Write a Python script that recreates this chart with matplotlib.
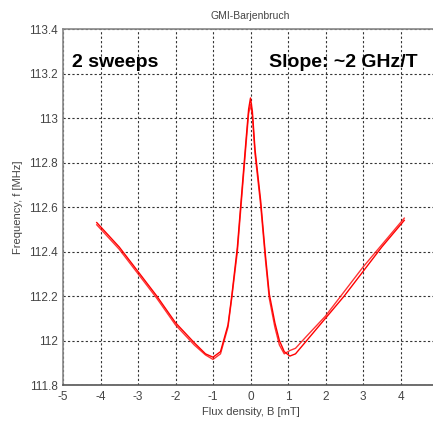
import numpy as np
import matplotlib
matplotlib.use('Agg')
import matplotlib.pyplot as plt

plt.rcParams['font.family'] = ['Liberation Sans', 'DejaVu Sans']

# sweep 1 (flux density in mT, frequency in MHz)
b1 = [-4.1, -3.5, -3.0, -2.5, -2.0, -1.5, -1.2, -1.0, -0.8, -0.6, -0.5, -0.35, -0.25, -0.12, -0.05, 0.0,
      0.05, 0.12, 0.27, 0.4, 0.5, 0.65, 0.77, 0.9, 1.05, 1.2, 1.5, 2.0, 2.5, 3.0, 3.5, 4.1]
f1 = [112.53, 112.42, 112.31, 112.20, 112.08, 111.99, 111.94, 111.925, 111.95, 112.07, 112.20, 112.42, 112.63,
      112.90, 113.04, 113.09, 113.03, 112.86, 112.63, 112.38, 112.21, 112.08, 112.00, 111.95, 111.93, 111.94,
      112.00, 112.10, 112.20, 112.31, 112.42, 112.54]
# sweep 2
b2 = [-4.1, -3.5, -3.0, -2.5, -2.0, -1.5, -1.2, -1.0, -0.8, -0.6, -0.5, -0.35, -0.25, -0.12, -0.05, 0.0,
      0.05, 0.12, 0.27, 0.4, 0.5, 0.65, 0.77, 0.9, 1.05, 1.2, 1.5, 2.0, 2.5, 3.0, 3.5, 4.1]
f2 = [112.52, 112.41, 112.30, 112.19, 112.07, 111.98, 111.935, 111.915, 111.94, 112.06, 112.19, 112.40, 112.61,
      112.88, 113.02, 113.06, 113.01, 112.84, 112.61, 112.36, 112.19, 112.06, 111.98, 111.94, 111.955, 111.965,
      112.02, 112.11, 112.22, 112.33, 112.43, 112.55]

xticks = [-5, -4, -3, -2, -1, 0, 1, 2, 3, 4, 5]
xlabels = ['-5', '-4', '-3', '-2', '-1', '0', '1', '2', '3', '4', '']
yticks = [111.8, 112.0, 112.2, 112.4, 112.6, 112.8, 113.0, 113.2, 113.4]
ylabels = ['111.8', '112', '112.2', '112.4', '112.6', '112.8', '113', '113.2', '113.4']

fig = plt.figure(figsize=(4.33, 4.23), dpi=100)
ax = fig.add_axes([63/433, 1-385/423, 375/433, 356/423])

ax.plot(b1, f1, color='red', lw=1.0)
ax.plot(b2, f2, color='red', lw=1.0, alpha=0.8)

ax.set_xlim(-5, 5)
ax.set_ylim(111.8, 113.4)
ax.set_xticks(xticks)
ax.set_xticklabels(xlabels)
ax.set_yticks(yticks)
ax.set_yticklabels(ylabels)
ax.grid(True, color='#333333', linestyle=(0, (2, 2)), linewidth=0.8)
ax.tick_params(length=0, labelsize=8.5, colors='#444444', pad=4)
for s in ax.spines.values():
    s.set_color('#888888')
    s.set_linewidth(1.2)
ax.spines['bottom'].set_color('#555555')

ax.set_title('GMI-Barjenbruch', fontsize=7.5, color='#444444', pad=7)
ax.set_xlabel('Flux density, B [mT]', fontsize=8, color='#444444', labelpad=3)
ax.set_ylabel('Frequency, f [MHz]', fontsize=8, color='#444444', labelpad=4)

ax.text(-4.75, 113.25, '2 sweeps', fontsize=14, fontweight='bold', va='center', ha='left')
ax.text(4.45, 113.25, 'Slope: ~2 GHz/T', fontsize=14, fontweight='bold', va='center', ha='right')

fig.savefig('out.png', dpi=100)
